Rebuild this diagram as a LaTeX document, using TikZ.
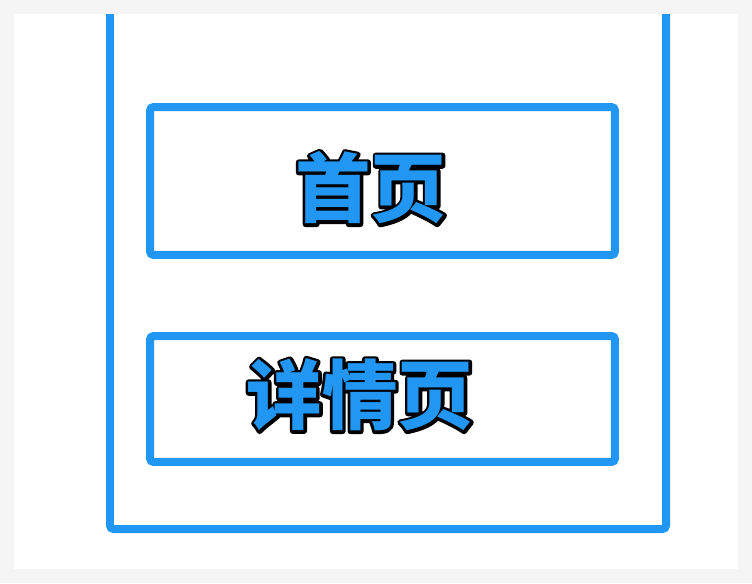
\documentclass[tikz,border=0pt]{standalone}
\usepackage{fontspec}
\newfontfamily\cjk{Noto Sans CJK SC}
\usetikzlibrary{positioning}
\definecolor{frameblue}{HTML}{2196F3}
% blue glyphs with a black outline: stroke first, fill on top
\newcommand{\outlined}[1]{\rlap{\special{pdf:code 1 Tr 3.4 w 1 j 0 0 0 RG}#1\special{pdf:code 0 Tr}}\textcolor{frameblue}{#1}}

\begin{document}
\begin{tikzpicture}[x=0.02cm, y=-0.02cm,
    pagebox/.style={draw=frameblue, line width=0.16cm, rounded corners=2pt, minimum width=9.3cm, inner sep=0pt},
    pagelabel/.style={font=\cjk\bfseries\fontsize{43}{43}\selectfont, inner sep=0pt}]
    \fill [black!4] (0,0) rectangle (752,583);
    \fill [white] (14,14) rectangle (738,569);
    \useasboundingbox (0,0) rectangle (752,583);
    % outer frame, open at the top
    \draw [frameblue, line width=0.16cm, rounded corners=2pt] (110,14) -- (110,529) -- (666,529) -- (666,14);
    % pages
    \node (home) [pagebox, minimum height=2.96cm] at (382.5,181) {};
    \node (detail) [pagebox, minimum height=2.52cm] at (382.5,399) {};
    \node (homelabel) [pagelabel] at (371,188) {\outlined{首页}};
    \node (detaillabel) [pagelabel] at (360,395) {\outlined{详情页}};
\end{tikzpicture}
\end{document}
